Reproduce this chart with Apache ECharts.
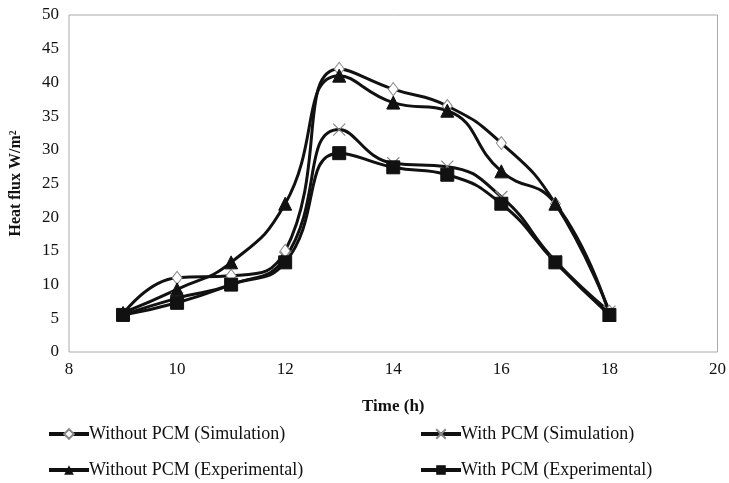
<!DOCTYPE html>
<html><head><meta charset="utf-8">
<script src="https://cdn.jsdelivr.net/npm/echarts@6/dist/echarts.min.js"></script>
<style>html,body{margin:0;padding:0;background:#fff}#c{width:729px;height:483px}</style>
</head><body><div id="c"></div>
<script>
const hours = [9, 10, 11, 12, 13, 14, 15, 16, 17, 18];
const withoutPcmSim = [5.6, 11.0, 11.3, 15.0, 42.0, 39.0, 36.5, 31.0, 22.0, 6.0];
const withPcmSim = [5.5, 8.0, 10.0, 14.0, 33.0, 28.0, 27.5, 23.0, 13.5, 6.0];
const withoutPcmExp = [5.8, 9.3, 13.3, 22.0, 41.0, 37.0, 35.8, 26.8, 22.0, 5.5];
const withPcmExp = [5.5, 7.3, 10.0, 13.3, 29.5, 27.4, 26.3, 22.0, 13.3, 5.5];
const seriesNames = ['Without PCM (Simulation)', 'With PCM (Simulation)', 'Without PCM (Experimental)', 'With PCM (Experimental)'];

const font = 'Liberation Serif';
const xPath = 'path://M0,0L10,10M10,0L0,10';
function pts(v){ return hours.map((h,i)=>[h,v[i]]); }
const chart = echarts.init(document.getElementById('c'));
const base = {type:'line', smooth:0.5, lineStyle:{color:'#111', width:3}, z:2};
const legendCommon = {itemWidth:40, itemHeight:12, itemGap:0,
  lineStyle:{width:4, color:'#111'},
  textStyle:{fontFamily:font, fontSize:18, color:'#111', padding:[0,0,0,-5]}};
chart.setOption({
  animation:false,
  grid:{left:67, top:15, right:10, bottom:131, show:true, borderColor:'#aaa', borderWidth:1},
  xAxis:{type:'value', min:8, max:20, interval:2,
    axisLine:{show:false}, axisTick:{show:false}, splitLine:{show:false},
    axisLabel:{fontFamily:font, fontSize:17, color:'#111', margin:9},
    name:'Time (h)', nameLocation:'middle', nameGap:46,
    nameTextStyle:{fontFamily:font, fontSize:17, fontWeight:'bold', color:'#111'}},
  yAxis:{type:'value', min:0, max:50, interval:5,
    axisLine:{show:false}, axisTick:{show:false}, splitLine:{show:false},
    axisLabel:{fontFamily:font, fontSize:17, color:'#111', margin:10},
    name:'Heat flux W/m²', nameLocation:'middle', nameGap:45,
    nameTextStyle:{fontFamily:font, fontSize:16, fontWeight:'bold', color:'#111'}},
  legend:[
    Object.assign({data:[seriesNames[0]], left:42, top:420}, legendCommon),
    Object.assign({data:[seriesNames[1]], left:414, top:420}, legendCommon),
    Object.assign({data:[seriesNames[2]], left:42, top:456}, legendCommon),
    Object.assign({data:[seriesNames[3]], left:414, top:456}, legendCommon)
  ],
  series:[
    Object.assign({}, base, {name:seriesNames[0], data:pts(withoutPcmSim),
      symbol:'diamond', symbolSize:[10,13], itemStyle:{color:'#fff', borderColor:'#888', borderWidth:1}}),
    Object.assign({}, base, {name:seriesNames[1], data:pts(withPcmSim),
      symbol:xPath, symbolSize:12, itemStyle:{color:'none', borderColor:'#888', borderWidth:1.2}}),
    Object.assign({}, base, {name:seriesNames[2], data:pts(withoutPcmExp),
      symbol:'triangle', symbolSize:13, itemStyle:{color:'#111', borderColor:'#111'}}),
    Object.assign({}, base, {name:seriesNames[3], data:pts(withPcmExp),
      symbol:'rect', symbolSize:13, itemStyle:{color:'#111', borderColor:'#111'}})
  ]
});
</script></body></html>
